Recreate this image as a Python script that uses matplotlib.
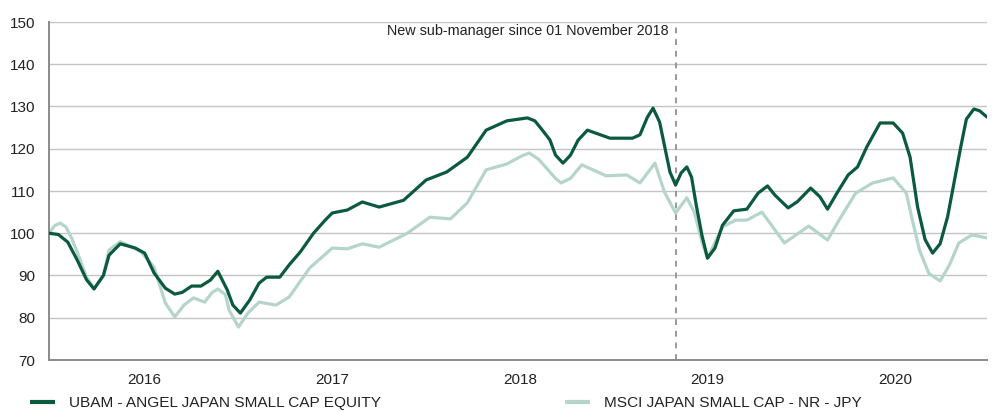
import matplotlib
matplotlib.use("Agg")
from matplotlib import pyplot as plt

plt.rcParams['font.family'] = ['Liberation Sans', 'DejaVu Sans']

# time as decimal years, values rebased to 100
fund_t = [2015.49, 2015.54, 2015.59, 2015.64, 2015.69, 2015.73, 2015.78, 2015.81,
          2015.87, 2015.95, 2016.00, 2016.05, 2016.11, 2016.16, 2016.20, 2016.25,
          2016.30, 2016.35, 2016.39, 2016.44, 2016.47, 2016.51, 2016.56, 2016.61,
          2016.65, 2016.72, 2016.77, 2016.83, 2016.90, 2016.96, 2017.00, 2017.08,
          2017.16, 2017.25, 2017.38, 2017.50, 2017.61, 2017.72, 2017.82, 2017.93,
          2018.04, 2018.08, 2018.12, 2018.16, 2018.19, 2018.23, 2018.27, 2018.31,
          2018.36, 2018.48, 2018.60, 2018.64, 2018.68, 2018.71, 2018.745, 2018.77,
          2018.80, 2018.83, 2018.86, 2018.89, 2018.915, 2018.94, 2018.97, 2019.00,
          2019.04, 2019.08, 2019.14, 2019.21, 2019.27, 2019.32, 2019.36, 2019.43,
          2019.48, 2019.55, 2019.60, 2019.64, 2019.69, 2019.75, 2019.80, 2019.85,
          2019.92, 2019.99, 2020.04, 2020.08, 2020.12, 2020.16, 2020.20, 2020.24,
          2020.28, 2020.35, 2020.38, 2020.42, 2020.45, 2020.49]
fund_v = [100.0, 99.7, 97.9, 93.7, 89.0, 86.8, 90.0, 94.8,
          97.5, 96.5, 95.3, 90.6, 87.0, 85.6, 86.0, 87.5,
          87.5, 88.9, 91.0, 86.6, 83.0, 81.1, 84.2, 88.2,
          89.6, 89.6, 92.5, 95.6, 100.0, 103.0, 104.8, 105.5,
          107.4, 106.2, 107.8, 112.6, 114.5, 118.0, 124.4, 126.6,
          127.3, 126.6, 124.4, 122.1, 118.5, 116.6, 118.5, 122.0,
          124.4, 122.5, 122.5, 123.3, 127.5, 129.6, 126.3, 120.9,
          114.5, 111.4, 114.3, 115.7, 113.3, 106.7, 99.6, 94.1,
          96.5, 101.9, 105.3, 105.7, 109.5, 111.2, 109.0, 106.0,
          107.5, 110.7, 108.6, 105.7, 109.5, 113.8, 115.7, 120.5,
          126.1, 126.1, 123.7, 118.0, 106.2, 98.5, 95.3, 97.5,
          103.9, 120.4, 127.0, 129.4, 129.0, 127.5]

bench_t = [2015.49, 2015.52, 2015.55, 2015.58, 2015.61, 2015.64, 2015.69, 2015.73,
           2015.78, 2015.81, 2015.87, 2015.92, 2015.98, 2016.05, 2016.11, 2016.16,
           2016.21, 2016.26, 2016.32, 2016.36, 2016.39, 2016.43, 2016.45, 2016.50,
           2016.55, 2016.61, 2016.70, 2016.77, 2016.88, 2017.00, 2017.08, 2017.16,
           2017.25, 2017.40, 2017.52, 2017.63, 2017.72, 2017.82, 2017.93, 2018.01,
           2018.05, 2018.10, 2018.19, 2018.22, 2018.27, 2018.33, 2018.46, 2018.57,
           2018.64, 2018.72, 2018.77, 2018.83, 2018.89, 2018.93, 2018.97, 2019.00,
           2019.08, 2019.15, 2019.21, 2019.29, 2019.34, 2019.41, 2019.54, 2019.64,
           2019.70, 2019.79, 2019.88, 2019.99, 2020.06, 2020.09, 2020.13, 2020.18,
           2020.24, 2020.29, 2020.34, 2020.41, 2020.49]
bench_v = [100.0, 101.8, 102.4, 101.5, 98.9, 95.6, 89.6, 87.0,
           90.1, 96.0, 98.0, 97.0, 95.6, 92.0, 83.5, 80.2,
           83.0, 84.7, 83.7, 86.0, 86.8, 85.5, 81.8, 77.8,
           81.1, 83.7, 83.0, 84.9, 91.8, 96.5, 96.3, 97.5,
           96.7, 100.0, 103.8, 103.4, 107.2, 115.0, 116.4, 118.3,
           119.0, 117.5, 113.0, 111.9, 113.0, 116.2, 113.6, 113.8,
           111.9, 116.6, 109.8, 104.8, 108.4, 105.0, 98.0, 94.1,
           101.5, 103.1, 103.1, 105.0, 102.0, 97.7, 101.7, 98.4,
           103.0, 109.5, 111.9, 113.1, 109.5, 103.5, 96.0, 90.5,
           88.7, 92.5, 97.7, 99.6, 98.9]

fund_name = 'UBAM - ANGEL JAPAN SMALL CAP EQUITY'
bench_name = 'MSCI JAPAN SMALL CAP - NR - JPY'
years = [2016, 2017, 2018, 2019, 2020]
yticks = [70, 80, 90, 100, 110, 120, 130, 140, 150]
switch_t = 2018.833
switch_label = 'New sub-manager since 01 November 2018'

dark = '#0b5a3d'
light = '#b6d5c9'

fig = plt.figure(figsize=(9.92, 4.11), dpi=100)
ax = fig.add_axes([49/992, 51/411, 938/992, 338/411])

for y in yticks[1:]:
    ax.axhline(y, color='#c4c4c4', lw=1, zorder=0)

l2, = ax.plot(bench_t, bench_v, color=light, lw=2.3, solid_joinstyle='round',
              solid_capstyle='round', zorder=2)
l1, = ax.plot(fund_t, fund_v, color=dark, lw=2.3, solid_joinstyle='round',
              solid_capstyle='round', zorder=3)

ax.axvline(switch_t, color='#999999', lw=1.4, ls=(0, (3, 3)), zorder=1)
ax.text(switch_t - 0.04, 147.9, switch_label, ha='right', va='center',
        fontsize=10.4, color='#222222')

ax.set_xlim(fund_t[0], fund_t[-1])
ax.set_ylim(70, 150)
ax.set_yticks(yticks)
ax.set_xticks(years)
ax.tick_params(axis='both', length=0, labelsize=11, colors='#222222')
ax.tick_params(axis='y', pad=10)
ax.tick_params(axis='x', pad=9)
for s in ['top', 'right']:
    ax.spines[s].set_visible(False)
ax.spines['left'].set_color('#8a8a8a')
ax.spines['left'].set_linewidth(1.4)
ax.spines['bottom'].set_color('#8a8a8a')
ax.spines['bottom'].set_linewidth(1.4)

leg1 = fig.legend([l1], [fund_name], loc='center left', bbox_to_anchor=(30/992, 8/411),
                  frameon=False, fontsize=11.1, handlelength=1.65, handletextpad=0.85,
                  borderpad=0, borderaxespad=0)
leg2 = fig.legend([l2], [bench_name], loc='center left', bbox_to_anchor=(565/992, 8/411),
                  frameon=False, fontsize=11.1, handlelength=1.65, handletextpad=0.85,
                  borderpad=0, borderaxespad=0)
for leg in (leg1, leg2):
    for line in leg.get_lines():
        line.set_linewidth(3)
        line.set_solid_capstyle('butt')
    for t in leg.get_texts():
        t.set_color('#222222')

fig.savefig('out.png', dpi=100)
